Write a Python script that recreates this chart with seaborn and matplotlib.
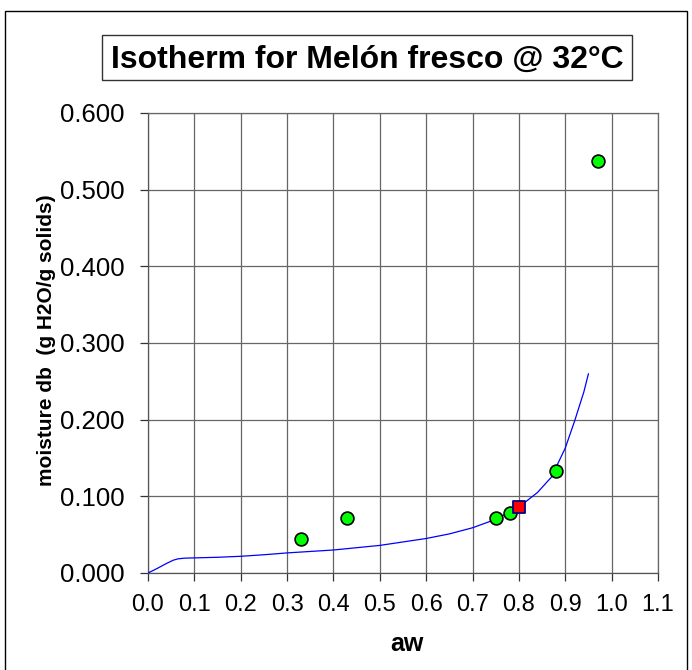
import matplotlib
matplotlib.use("Agg")
import matplotlib.pyplot as plt
import seaborn as sns
import pandas as pd
from matplotlib.patches import Rectangle

# ---- data ----
curve_aw = [0.0, 0.02, 0.04, 0.055, 0.065, 0.08, 0.10, 0.15, 0.20, 0.25, 0.30,
            0.40, 0.50, 0.60, 0.65, 0.70, 0.75, 0.80, 0.84, 0.87, 0.90, 0.92,
            0.94, 0.95]
curve_m = [0.0, 0.006, 0.0125, 0.0168, 0.0185, 0.0194, 0.0197, 0.0205, 0.0218,
           0.0238, 0.0262, 0.030, 0.0360, 0.045, 0.051, 0.059, 0.070, 0.086,
           0.105, 0.125, 0.163, 0.198, 0.236, 0.260]

points_aw = [0.33, 0.43, 0.75, 0.78, 0.88, 0.97]
points_m = [0.044, 0.072, 0.072, 0.078, 0.133, 0.537]

target_aw = [0.80]
target_m = [0.086]

x_ticks = [0.0, 0.1, 0.2, 0.3, 0.4, 0.5, 0.6, 0.7, 0.8, 0.9, 1.0, 1.1]
y_ticks = [0.0, 0.1, 0.2, 0.3, 0.4, 0.5, 0.6]

title_text = "Isotherm for Melón fresco @ 32°C"
x_label = "aw"
y_label = "moisture db  (g H2O/g solids)"

# ---- style ----
sns.set_theme(style="white")
plt.rcParams["font.family"] = ["Liberation Sans", "DejaVu Sans"]

W, H = 692, 670
fig = plt.figure(figsize=(W / 100, H / 100), dpi=100)
ax = fig.add_axes([148 / W, 1 - 573 / H, 510 / W, 460 / H])

curve_df = pd.DataFrame({"aw": curve_aw, "m": curve_m})
pts_df = pd.DataFrame({"aw": points_aw, "m": points_m})
tgt_df = pd.DataFrame({"aw": target_aw, "m": target_m})

sns.lineplot(data=curve_df, x="aw", y="m", ax=ax, color="#0000FF",
             linewidth=0.9, sort=False, estimator=None, zorder=3)
sns.scatterplot(data=pts_df, x="aw", y="m", ax=ax, color="#00FF00",
                edgecolor="black", linewidth=1.2, s=85, marker="o", zorder=4)
sns.scatterplot(data=tgt_df, x="aw", y="m", ax=ax, color="#FF0000",
                edgecolor="#000080", linewidth=1.3, s=85, marker="s", zorder=5)

ax.set_xlim(0.0, 1.1)
ax.set_ylim(0.0, 0.6)
ax.set_xticks(x_ticks)
ax.set_yticks(y_ticks)
ax.set_xticklabels([f"{v:.1f}" for v in x_ticks])
ax.set_yticklabels([f"{v:.3f}" for v in y_ticks])

ax.grid(True, color="#666666", linewidth=0.9)
ax.set_axisbelow(True)
for s in ax.spines.values():
    s.set_visible(True)
    s.set_color("#666666")
    s.set_linewidth(0.9)
ax.spines["left"].set_color("#555555")
ax.spines["bottom"].set_color("#555555")

ax.tick_params(axis="both", which="major", direction="out", length=6,
               width=0.9, color="#333333", labelcolor="black",
               left=True, bottom=True)
ax.tick_params(axis="y", pad=11, labelsize=18.5)
ax.tick_params(axis="x", pad=9, labelsize=17)

ax.set_xlabel(x_label, fontsize=18, fontweight="bold", color="black")
ax.set_ylabel(y_label, fontsize=15, fontweight="bold", color="black")
ax.xaxis.set_label_coords((407 - 148) / 510, (573 - 644) / 460)
ax.xaxis.label.set_va("center")
ax.yaxis.set_label_coords((47 - 148) / 510, (573 - 340) / 460)
ax.yaxis.label.set_va("center")

# outer chart frame
fig.patches.append(Rectangle((5 / W, -0.01), (687 - 5) / W, 1 - 11 / H + 0.01,
                             transform=fig.transFigure, fill=False,
                             edgecolor="black", linewidth=1.0))

# title box
fig.patches.append(Rectangle((102 / W, 1 - 80 / H), (632 - 102) / W, 45 / H,
                             transform=fig.transFigure, facecolor="white",
                             edgecolor="#333333", linewidth=1.0))
fig.text(367 / W, 1 - 68 / H, title_text, fontsize=23, fontweight="bold",
         ha="center", va="baseline", color="black")

fig.savefig("out.png", dpi=100)
